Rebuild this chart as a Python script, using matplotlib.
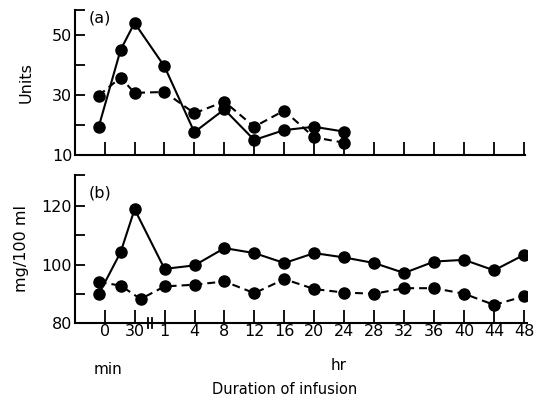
import matplotlib
matplotlib.use("Agg")
import matplotlib.pyplot as plt

# time axis: minutes before 1 hr, hours after (axis has a break)
min_ticks = [0, 30]
hr_ticks = [1, 4, 8, 12, 16, 20, 24, 28, 32, 36, 40, 44, 48]
tick_labels = ["0", "30"] + [str(h) for h in hr_ticks]

# panel (a): Units
a_min_t = [-6, 16, 30]
a_solid_min = [19.3, 45.0, 54.0]
a_solid_hr = [39.5, 17.6, 25.2, 15.0, 18.3, 19.4, 17.8]
a_dash_min = [29.8, 35.8, 30.7]
a_dash_hr = [31.0, 23.9, 27.8, 19.4, 24.8, 15.9, 14.1]

# panel (b): mg/100 ml
b_solid_min_t = [-6, 16, 30]
b_solid_min = [89.8, 104.2, 118.9]
b_solid_hr = [98.5, 99.7, 105.6, 103.9, 100.5, 103.9, 102.4, 100.5, 97.1, 101.0, 101.6, 98.0, 103.3]
b_dash_min_t = [-6, 16, 36]
b_dash_min = [94.0, 92.8, 88.2]
b_dash_hr = [92.5, 93.1, 94.2, 90.2, 95.0, 91.6, 90.4, 90.0, 91.9, 91.9, 90.0, 86.2, 89.1]


def pos_min(m):
    return m / 30.0


def pos_hr(h):
    return 2.0 if h == 1 else 2.0 + h / 4.0


def xs(min_t, hrs):
    return [pos_min(m) for m in min_t] + [pos_hr(h) for h in hrs]


plt.rcParams["font.family"] = ["DejaVu Sans"]
fig = plt.figure(figsize=(5.38, 4.01), dpi=100)
ax_a = fig.add_axes([75 / 538, 1 - 155 / 401, 450 / 538, 145 / 401])
ax_b = fig.add_axes([75 / 538, 1 - 323 / 401, 452 / 538, 148 / 401])

tick_pos = [pos_min(m) for m in min_ticks] + [pos_hr(h) for h in hr_ticks]
mk = dict(marker="o", ms=8, color="black", lw=1.5)
dash = (0, (3.8, 2.4))

# (a)
ax_a.plot(xs(a_min_t, hr_ticks[:7]), a_solid_min + a_solid_hr, ls="-", **mk)
ax_a.plot(xs(a_min_t, hr_ticks[:7]), a_dash_min + a_dash_hr, ls=dash, **mk)
ax_a.set_xlim(-0.99, 14.05)
ax_a.set_ylim(10, 58.3)
ax_a.set_yticks([10, 20, 30, 40, 50, 58.3])
ax_a.set_yticklabels(["10", "", "30", "", "50", ""])
ax_a.set_xticks(tick_pos)
ax_a.set_xticklabels([])
ax_a.set_ylabel("Units", fontsize=11.5, labelpad=13)
ax_a.text(0.03, 0.995, "(a)", transform=ax_a.transAxes, fontsize=11.5, va="top")

# (b)
ax_b.plot(xs(b_solid_min_t, hr_ticks), b_solid_min + b_solid_hr, ls="-", **mk)
ax_b.plot(xs(b_dash_min_t, hr_ticks), b_dash_min + b_dash_hr, ls=dash, **mk)
ax_b.set_xlim(-0.99, 14.1)
ax_b.set_ylim(80, 130.6)
ax_b.set_yticks([80, 90, 100, 110, 120, 130.6])
ax_b.set_yticklabels(["80", "", "100", "", "120", ""])
ax_b.set_xticks(tick_pos)
ax_b.set_xticklabels(tick_labels)
ax_b.set_ylabel("mg/100 ml", fontsize=11.5, labelpad=9)
ax_b.text(0.03, 0.93, "(b)", transform=ax_b.transAxes, fontsize=11.5, va="top")

# axis break marks
for bx in (1.45, 1.59):
    ax_b.plot([bx, bx], [-0.035, 0.035], color="black", lw=1.3,
              transform=ax_b.get_xaxis_transform(), clip_on=False)

for ax in (ax_a, ax_b):
    for s in ("top", "right"):
        ax.spines[s].set_visible(False)
    for s in ("left", "bottom"):
        ax.spines[s].set_linewidth(1.5)
    ax.tick_params(axis="x", direction="in", length=9.5, width=1.3,
                   labelsize=11.5, pad=1)
    ax.tick_params(axis="y", direction="in", length=7, width=1.3,
                   labelsize=11.5, pad=2)

fig.text(108 / 538, 1 - 369 / 401, "min", fontsize=11, ha="center", va="center")
fig.text(339 / 538, 1 - 366 / 401, "hr", fontsize=11, ha="center", va="center")
fig.text(285 / 538, 1 - 390 / 401, "Duration of infusion", fontsize=10.5,
         ha="center", va="center")

fig.savefig("out.png", dpi=100)
